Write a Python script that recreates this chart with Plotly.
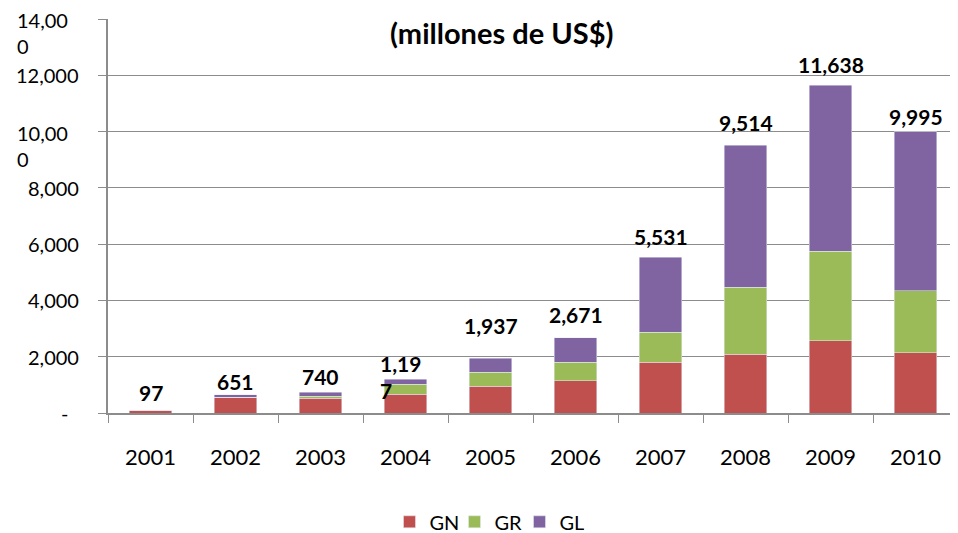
import plotly.graph_objects as go

years = ["2001", "2002", "2003", "2004", "2005", "2006", "2007", "2008", "2009", "2010"]
gn = [97, 560, 520, 660, 950, 1150, 1800, 2090, 2560, 2140]
gr = [0, 0, 70, 370, 500, 650, 1070, 2380, 3190, 2200]
gl = [0, 91, 150, 167, 487, 871, 2661, 5044, 5888, 5655]
totals = [97, 651, 740, 1197, 1937, 2671, 5531, 9514, 11638, 9995]
total_labels = ["97", "651", "740", "1,19<br>7", "1,937", "2,671", "5,531", "9,514", "11,638", "9,995"]
ytick_vals = [0, 2000, 4000, 6000, 8000, 10000, 12000, 14000]
ytick_text = ["-", "2,000", "4,000", "6,000", "8,000", "10,00<br>0", "12,000", "14,00<br>0"]
subtitle = "(millones de US$)"

# vertical offsets (px) of the total labels above the bar tops, as placed in the original
label_gap = [18, 13, 16, 2, 33, 23, 21, 23, 21, 15]

FONT = "Lato"
GRID = "#8c8c8c"

# page body adds an 8px offset; compensate in margins
L, T, R, B = 100, 11, 8, 128
PW = 958 - L - R

fig = go.Figure()
fig.add_trace(go.Bar(name="GN", x=years, y=gn, marker_color="#C0504D"))
fig.add_trace(go.Bar(name="GR", x=years, y=gr, marker_color="#9BBB59"))
fig.add_trace(go.Bar(name="GL", x=years, y=gl, marker_color="#8064A2"))

annotations = []
for i, (tot, lab, gap) in enumerate(zip(totals, total_labels, label_gap)):
    if "<br>" in lab:
        annotations.append(dict(x=i, y=tot, xref="x", yref="y", text=lab, showarrow=False,
                                xanchor="center", yanchor="middle", align="left", xshift=-5, yshift=gap,
                                font=dict(family=FONT, size=21, color="black", weight="bold")))
    else:
        annotations.append(dict(x=i, y=tot, xref="x", yref="y", text=lab, showarrow=False,
                                xanchor="center", yanchor="middle", yshift=gap,
                                font=dict(family=FONT, size=21, color="black", weight="bold")))

for v, t in zip(ytick_vals, ytick_text):
    if "<br>" in t:
        annotations.append(dict(x=0, y=v, xref="paper", yref="y", text=t, showarrow=False,
                                xanchor="left", yanchor="middle", align="left", xshift=-93, yshift=-14,
                                font=dict(family=FONT, size=20, color="black")))
    elif t == "-":
        annotations.append(dict(x=0, y=v, xref="paper", yref="y", text=t, showarrow=False,
                                xanchor="right", yanchor="middle", xshift=-38,
                                font=dict(family=FONT, size=20, color="black")))
    else:
        annotations.append(dict(x=0, y=v, xref="paper", yref="y", text=t, showarrow=False,
                                xanchor="right", yanchor="middle", xshift=-27,
                                font=dict(family=FONT, size=20, color="black")))

annotations.append(dict(x=(501 - 108) / PW, y=1, xref="paper", yref="paper",
                        text="<b>" + subtitle + "</b>",
                        showarrow=False, xanchor="center", yanchor="middle", yshift=-13,
                        font=dict(family=FONT, size=29, color="black")))

fig.update_layout(
    barmode="stack",
    bargap=0.5,
    width=958, height=533,
    margin=dict(l=L, r=R, t=T, b=B, autoexpand=False),
    paper_bgcolor="white", plot_bgcolor="white",
    font=dict(family=FONT, size=20, color="black"),
    showlegend=True,
    legend=dict(orientation="h", xref="container", yref="container", x=0.5, y=0.036,
                xanchor="center", yanchor="middle", font=dict(family=FONT, size=20),
                traceorder="normal", entrywidth=20, entrywidthmode="pixels"),
    annotations=annotations,
)
fig.update_xaxes(type="category", showline=True, linecolor=GRID, linewidth=1.5,
                 ticks="outside", tickson="boundaries", ticklen=8, tickcolor=GRID,
                 tickfont=dict(family=FONT, size=22, color="black"), tickangle=0,
                 ticklabelstandoff=24, showgrid=False, automargin=False)
fig.update_yaxes(range=[0, 14000], tickvals=ytick_vals, showticklabels=False,
                 showline=True, linecolor=GRID, linewidth=1.5,
                 ticks="outside", ticklen=8, tickcolor=GRID, automargin=False,
                 showgrid=True, gridcolor=GRID, gridwidth=1, zeroline=False)

fig.write_html("out.html")
